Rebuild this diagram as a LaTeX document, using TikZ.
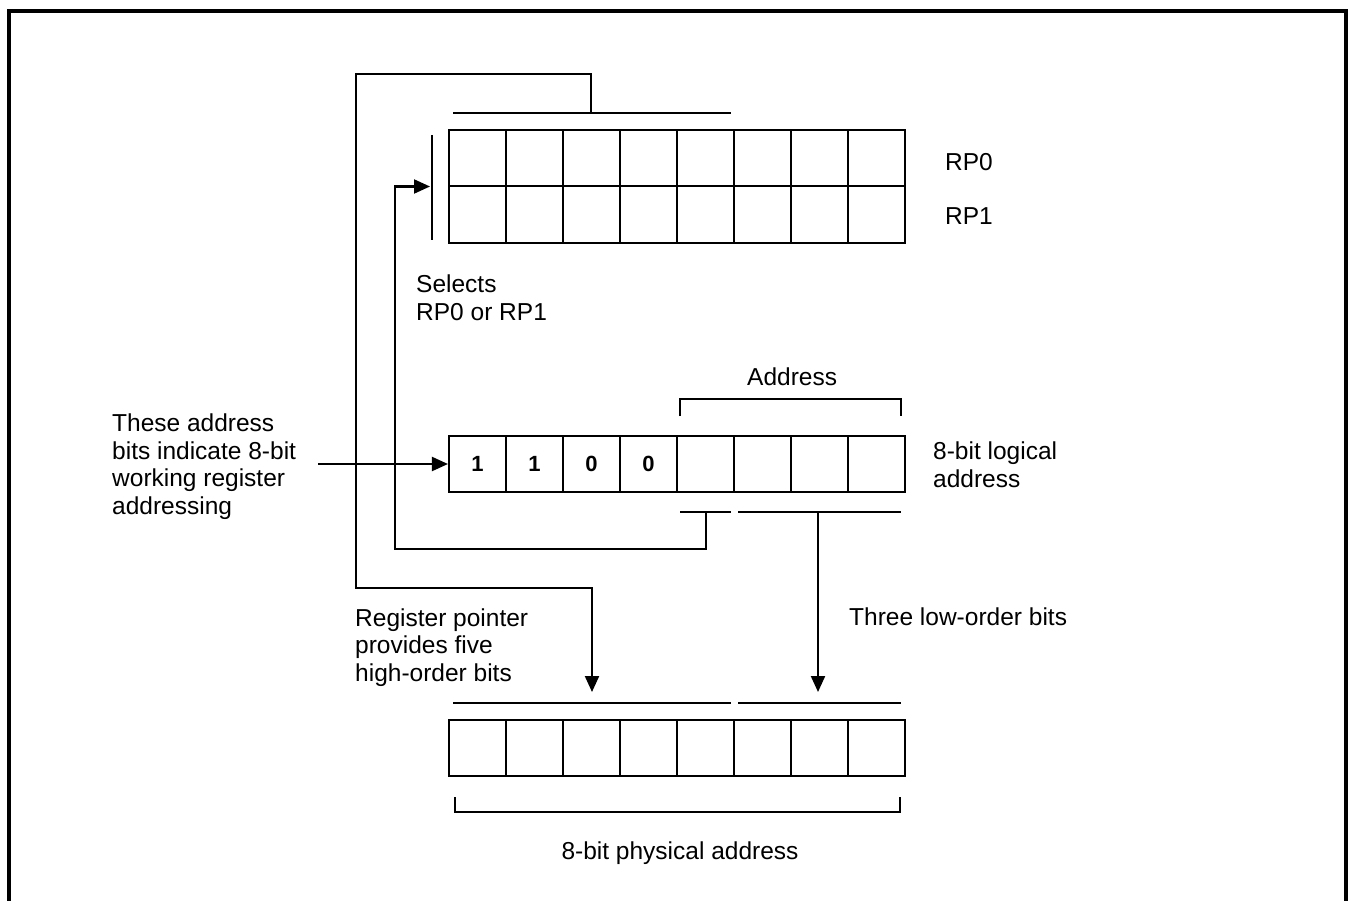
\documentclass[tikz,border=0pt]{standalone}
\usepackage{fontspec}
\setmainfont{Liberation Sans}
\usetikzlibrary{arrows.meta}
\begin{document}
\begin{tikzpicture}[x=1pt,y=-1pt,
  cell/.style={draw,line width=2.1pt,minimum width=57pt,minimum height=56.5pt,inner sep=0pt,font=\fontsize{22}{24}\selectfont\bfseries},
  wire/.style={line width=2.1pt},
  arr/.style={wire,-{Triangle[length=16pt,width=14pt]}},
  lbl/.style={inner sep=0pt,font=\fontsize{24.5}{27.5}\selectfont,align=left,anchor=base west},
  frame/.style={line width=4pt}]
\useasboundingbox (0,0) rectangle (1348,901);
\draw[frame] (8.8,905) -- (8.8,11.3) -- (1345.5,11.3) -- (1345.5,905);
% top register (RP0 / RP1)
\foreach \i in {0,...,7}{
  \node[cell] (a\i) at ({477.5+57*\i},158.2) {};
  \node[cell] (b\i) at ({477.5+57*\i},214.7) {};
}
\node[lbl] (rp0) at (945,171) {RP0};
\node[lbl] (rp1) at (945,225) {RP1};
% middle register (8-bit logical address)
\foreach \i/\t in {0/1,1/1,2/0,3/0,4/,5/,6/,7/}{
  \node[cell] (m\i) at ({477.5+57*\i},464) {\t};
}
% bottom register (8-bit physical address)
\foreach \i in {0,...,7}{
  \node[cell] (p\i) at ({477.5+57*\i},748) {};
}
% select bar left of RP0/RP1
\coordinate (barT) at (432,135);
\coordinate (barB) at (432,240);
\draw[wire] (barT) -- (barB);
% line above RP registers (five high-order bits)
\coordinate (hiL) at (453,113);
\coordinate (hiR) at (731,113);
\coordinate (hiM) at (591,113);
\draw[wire] (hiL) -- (hiR);
% address bracket above logical address
\coordinate (adL) at (680,416);
\coordinate (adR) at (901,416);
\draw[wire] (adL) -- (680,399) -- (901,399) -- (adR);
\node[lbl] (addr) at (747,385) {Address};
% lines under logical address
\coordinate (sL) at (680,512);
\coordinate (sR) at (731,512);
\coordinate (sM) at (706,512);
\coordinate (lL) at (738,512);
\coordinate (lR) at (901,512);
\coordinate (lM) at (818,512);
\draw[wire] (sL) -- (sR);
\draw[wire] (lL) -- (lR);
% lines above physical address
\coordinate (qL) at (453,703);
\coordinate (qR) at (731,703);
\coordinate (rL) at (738,703);
\coordinate (rR) at (901,703);
\draw[wire] (qL) -- (qR);
\draw[wire] (rL) -- (rR);
% bracket under physical address
\coordinate (phL) at (455,797);
\coordinate (phR) at (900,797);
\draw[wire] (phL) -- (455,812) -- (900,812) -- (phR);
% connectors
\coordinate (hiTip) at (592,692);
\coordinate (loTip) at (818,692);
\coordinate (selTip) at (430,186.5);
\coordinate (inStart) at (318,464);
\draw[arr] (hiM) -- (591,74) -- (356,74) -- (356,588) -- (592,588) -- (hiTip);
\draw[arr] (sM) -- (706,549) -- (395,549) -- (395,186.5) -- (selTip);
\draw[arr] (lM) -- (loTip);
\draw[arr] (inStart) -- (m0.west);
% labels (base anchor = baseline of last line)
\node[lbl] (sel) at (416,320) {Selects\\RP0 or RP1};
\node[lbl] (these) at (112,514) {These address\\bits indicate 8-bit\\working register\\addressing};
\node[lbl] (logic) at (933,487) {8-bit logical\\address};
\node[lbl] (regp) at (355,681) {Register pointer\\provides five\\high-order bits};
\node[lbl] (three) at (849,625) {Three low-order bits};
\node[lbl,anchor=base] (phys) at (680,859) {8-bit physical address};
\end{tikzpicture}
\end{document}
